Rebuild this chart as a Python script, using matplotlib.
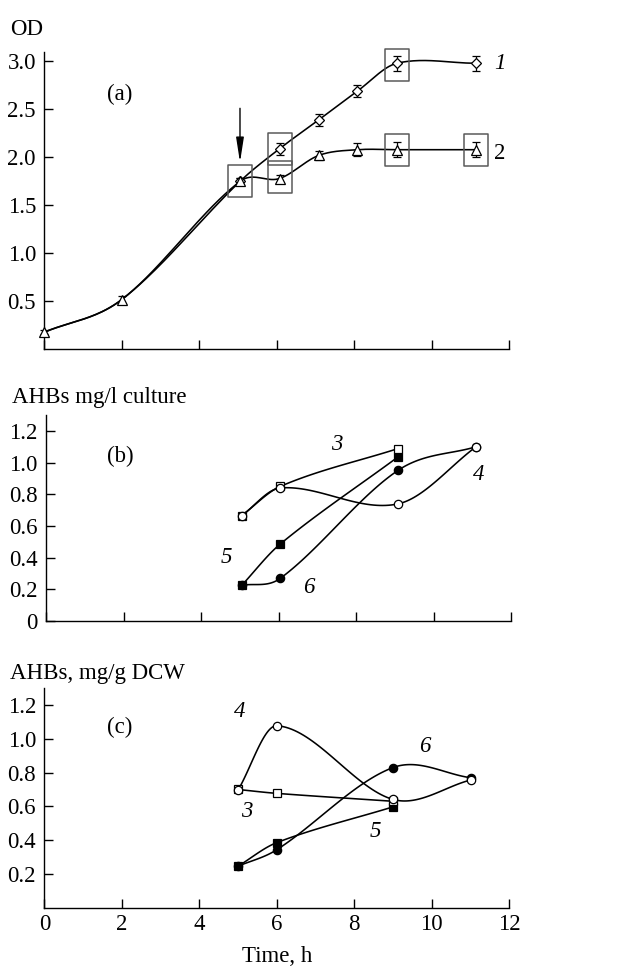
import numpy as np
import matplotlib
matplotlib.use("Agg")
import matplotlib.pyplot as plt
from matplotlib.path import Path

plt.rcParams['font.family'] = ['Liberation Serif', 'DejaVu Serif']
plt.rcParams['font.size'] = 16.5

# ---- panel (a): OD ----
od_t      = [0.0, 2.0, 5.05, 6.07, 7.08, 8.08, 9.1, 11.14]
od_1      = [0.18, 0.52, 1.75, 2.09, 2.39, 2.69, 2.98, 2.98]
od_1_err  = [0.02, 0.04, 0.04, 0.06, 0.06, 0.06, 0.08, 0.08]
od_2      = [0.18, 0.52, 1.75, 1.78, 2.02, 2.08, 2.08, 2.08]
od_2_err  = [0.02, 0.04, 0.04, 0.04, 0.05, 0.07, 0.08, 0.08]
box_t     = [5.05, 6.07, 6.07, 9.1, 9.1, 11.14]
box_od    = [1.75, 2.09, 1.80, 2.96, 2.08, 2.08]
arrow_t   = 5.05
arrow_od  = [2.54, 1.92]

# ---- panel (b): AHBs mg/l culture ----
b_t3 = [5.05, 6.05, 9.08];        b_3 = [0.665, 0.85, 1.088]
b_t4 = [5.05, 6.05, 9.08, 11.1];  b_4 = [0.665, 0.84, 0.739, 1.10]
b_t5 = [5.05, 6.05, 9.08];        b_5 = [0.225, 0.487, 1.035]
b_t6 = [5.05, 6.05, 9.08, 11.1];  b_6 = [0.225, 0.27, 0.95, 1.10]

# ---- panel (c): AHBs mg/g DCW ----
c_t3 = [5.0, 6.0, 9.0];           c_3 = [0.70, 0.677, 0.63]
c_t4 = [5.0, 6.0, 9.0, 11.0];     c_4 = [0.697, 1.078, 0.641, 0.756]
c_t5 = [5.0, 6.0, 9.0];           c_5 = [0.245, 0.385, 0.597]
c_t6 = [5.0, 6.0, 9.0, 11.0];     c_6 = [0.245, 0.343, 0.83, 0.77]

xticks = [0, 2, 4, 6, 8, 10, 12]


def smooth(x, y, n=40):
    # cardinal (catmull-rom like) hermite curve through the points
    x = np.asarray(x, float); y = np.asarray(y, float)
    m = np.zeros_like(y)
    m[0] = (y[1] - y[0]) / (x[1] - x[0])
    m[-1] = (y[-1] - y[-2]) / (x[-1] - x[-2])
    for i in range(1, len(x) - 1):
        m[i] = (y[i + 1] - y[i - 1]) / (x[i + 1] - x[i - 1])
    xs, ys = [], []
    for i in range(len(x) - 1):
        h = x[i + 1] - x[i]
        s = np.linspace(0, 1, n)
        h00 = 2*s**3 - 3*s**2 + 1
        h10 = s**3 - 2*s**2 + s
        h01 = -2*s**3 + 3*s**2
        h11 = s**3 - s**2
        xs.append(x[i] + s*h)
        ys.append(h00*y[i] + h10*h*m[i] + h01*y[i + 1] + h11*h*m[i + 1])
    return np.concatenate(xs), np.concatenate(ys)


def style_axis(ax):
    ax.spines['top'].set_visible(False)
    ax.spines['right'].set_visible(False)
    for s in ['left', 'bottom']:
        ax.spines[s].set_linewidth(1.0)
    ax.tick_params(direction='in', length=6.5, width=1.0, pad=6)
    ax.set_xlim(0, 12)
    ax.set_xticks(xticks)


fg = plt.figure(figsize=(6.34, 9.67), dpi=100)
axa = fg.add_axes([0.0699, 0.6386, 0.7334, 0.3079])
axb = fg.add_axes([0.0726, 0.3578, 0.7334, 0.2130])
axc = fg.add_axes([0.0699, 0.0615, 0.7334, 0.2267])
for ax in [axa, axb, axc]:
    style_axis(ax)

lw = 1.15
ms_c = 6
ms_s = 5.4

# panel a
axa.set_ylim(0, 3.1)
axa.set_yticks([0.5, 1.0, 1.5, 2.0, 2.5, 3.0])
axa.set_yticklabels(['0.5', '1.0', '1.5', '2.0', '2.5', '3.0'])
axa.set_xticklabels([])
for yy in [od_1, od_2]:
    sx, sy = smooth(od_t, yy)
    axa.plot(sx, sy, color='k', lw=lw)
e1 = axa.errorbar(od_t[2:], od_1[2:], yerr=od_1_err[2:], fmt='D', ms=5, mfc='white', mec='k',
                  mew=0.9, ecolor='k', elinewidth=0.9, capsize=3, capthick=0.9, zorder=3)
e2 = axa.errorbar(od_t, od_2, yerr=od_2_err, fmt='^', ms=6.5, mfc='white', mec='k',
                  mew=0.9, ecolor='k', elinewidth=0.9, capsize=3, capthick=0.9, zorder=4)
for cont in [e1, e2]:
    for art in cont.get_children():
        art.set_clip_on(False)
rect = Path([(-0.38, -0.5), (0.38, -0.5), (0.38, 0.5), (-0.38, 0.5), (-0.38, -0.5)],
            [Path.MOVETO, Path.LINETO, Path.LINETO, Path.LINETO, Path.CLOSEPOLY])
axa.plot(box_t, box_od, ls='none', marker=rect, ms=23, mfc='none', mec='#5a5a5a', mew=1.1,
         zorder=2, clip_on=False)
axa.annotate('', xy=(arrow_t, arrow_od[1]), xytext=(arrow_t, arrow_od[0]),
             arrowprops=dict(arrowstyle='-|>,head_length=0.9,head_width=0.14', color='k', lw=1.0))
axa.text(1.95, 2.66, '(a)', ha='center', va='center')
axa.text(11.75, 2.98, '1', ha='center', va='center', style='italic', clip_on=False)
axa.text(11.75, 2.04, '2', ha='center', va='center', clip_on=False)

# panel b
axb.set_ylim(0, 1.3)
axb.set_yticks([0, 0.2, 0.4, 0.6, 0.8, 1.0, 1.2])
axb.set_yticklabels(['0', '0.2', '0.4', '0.6', '0.8', '1.0', '1.2'])
axb.set_xticklabels([])
for tt, yy, mk, fc in [(b_t6, b_6, 'o', 'k'), (b_t5, b_5, 's', 'k'),
                       (b_t3, b_3, 's', 'white'), (b_t4, b_4, 'o', 'white')]:
    sx, sy = smooth(tt, yy)
    axb.plot(sx, sy, color='k', lw=lw)
    axb.plot(tt, yy, ls='none', marker=mk, ms=ms_c if mk == 'o' else ms_s, mfc=fc, mec='k', mew=0.9, zorder=3)
axb.text(1.91, 1.04, '(b)', ha='center', va='center')
axb.text(7.5, 1.115, '3', ha='center', va='center', style='italic')
axb.text(11.17, 0.925, '4', ha='center', va='center', style='italic')
axb.text(4.66, 0.40, '5', ha='center', va='center', style='italic')
axb.text(6.77, 0.21, '6', ha='center', va='center', style='italic')

# panel c
axc.set_ylim(0, 1.3)
axc.set_yticks([0.2, 0.4, 0.6, 0.8, 1.0, 1.2])
axc.set_yticklabels(['0.2', '0.4', '0.6', '0.8', '1.0', '1.2'])
axc.set_xticklabels([str(v) for v in xticks])
axc.tick_params(axis='x', pad=5)
for tt, yy, mk, fc in [(c_t6, c_6, 'o', 'k'), (c_t5, c_5, 's', 'k'),
                       (c_t3, c_3, 's', 'white'), (c_t4, c_4, 'o', 'white')]:
    sx, sy = smooth(tt, yy)
    axc.plot(sx, sy, color='k', lw=lw)
    axc.plot(tt, yy, ls='none', marker=mk, ms=ms_c if mk == 'o' else ms_s, mfc=fc, mec='k', mew=0.9, zorder=3)
axc.text(1.95, 1.07, '(c)', ha='center', va='center')
axc.text(5.05, 1.164, '4', ha='center', va='center', style='italic')
axc.text(5.23, 0.571, '3', ha='center', va='center', style='italic')
axc.text(8.55, 0.452, '5', ha='center', va='center', style='italic')
axc.text(9.83, 0.955, '6', ha='center', va='center', style='italic')

fg.text(10/634, 1 - 35/967, 'OD', ha='left', va='baseline')
fg.text(12/634, 1 - 403/967, 'AHBs mg/l culture', ha='left', va='baseline')
fg.text(10/634, 1 - 679/967, 'AHBs, mg/g DCW', ha='left', va='baseline')
fg.text(277/634, 1 - 962/967, 'Time, h', ha='center', va='baseline')

fg.savefig('out.png', dpi=100)
plt.close(fg)
